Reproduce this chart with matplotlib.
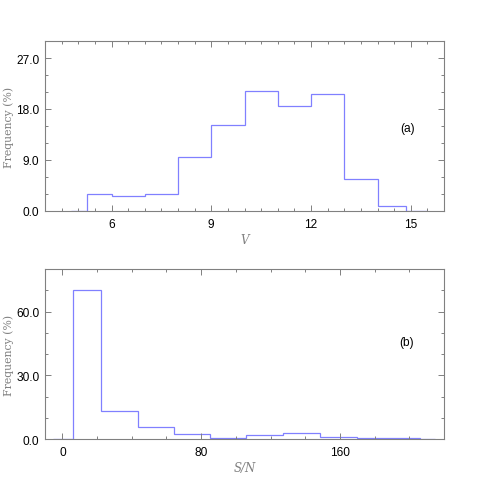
import numpy as np
import matplotlib
matplotlib.use('Agg')
import matplotlib.pyplot as plt
from matplotlib.ticker import MultipleLocator, FormatStrFormatter

# (a) V magnitude distribution, step histogram
v_edges = [4.77, 5.25, 6, 7, 8, 9, 10, 11, 12, 13, 14, 14.85, 15.5]
v_freq = [0, 3.05, 2.64, 3.05, 9.5, 15.1, 21.1, 18.5, 20.7, 5.6, 0.95, 0]

# (b) S/N distribution
sn_edges = [-5.3, 6.3, 22.1, 43.4, 64.2, 85.2, 106.0, 127.2, 148.5, 169.7, 205.9, 215.0]
sn_freq = [0, 70.1, 13.2, 6.0, 2.5, 0.8, 1.9, 2.8, 1.3, 0.4, 0]

line_color = '#8080ff'
frame_color = '#808080'
label_font = 'DejaVu Serif'
tick_font = 'Liberation Sans'


def style_axes(ax, xmaj, xmin, ymaj, ymin):
    for sp in ax.spines.values():
        sp.set_color(frame_color)
        sp.set_linewidth(0.8)
    ax.xaxis.set_major_locator(MultipleLocator(xmaj))
    ax.xaxis.set_minor_locator(MultipleLocator(xmin))
    ax.yaxis.set_major_locator(MultipleLocator(ymaj))
    ax.yaxis.set_minor_locator(MultipleLocator(ymin))
    ax.yaxis.set_major_formatter(FormatStrFormatter('%.1f'))
    ax.tick_params(which='both', direction='in', top=True, right=True,
                   color=frame_color, width=0.7, labelsize=8.6, labelcolor='black')
    ax.tick_params(which='major', length=4.5, pad=4)
    ax.tick_params(which='minor', length=2.5)
    ax.tick_params(axis='x', which='major', pad=5)
    for lab in ax.get_xticklabels() + ax.get_yticklabels():
        lab.set_fontfamily(tick_font)
    ax.set_ylabel('Frequency (%)', fontfamily=label_font, fontsize=7.8,
                  color=frame_color, labelpad=2)


fig = plt.figure(figsize=(4.85, 4.85), dpi=100)

ax1 = fig.add_axes([0.0928, 0.5629, 0.8227, 0.3505])
ax1.stairs(v_freq, v_edges, baseline=None, color=line_color, linewidth=0.9)
ax1.set_xlim(4, 16)
ax1.set_ylim(0, 30)
style_axes(ax1, 3, 0.5, 9, 3)
ax1.set_xlabel('V', fontfamily=label_font, fontstyle='italic', fontsize=8.5,
               color=frame_color, labelpad=2)
ax1.text(0.909, 0.49, '(a)', transform=ax1.transAxes, ha='center', va='center',
         fontsize=8.6, fontfamily=tick_font)

ax2 = fig.add_axes([0.0928, 0.0922, 0.8227, 0.3511])
ax2.stairs(sn_freq, sn_edges, baseline=None, color=line_color, linewidth=0.9)
ax2.set_xlim(-10, 220)
ax2.set_ylim(0, 80)
style_axes(ax2, 80, 20, 30, 10)
ax2.set_xlabel('S/N', fontfamily=label_font, fontstyle='italic', fontsize=8.5,
               color=frame_color, labelpad=2)
ax2.text(0.906, 0.57, '(b)', transform=ax2.transAxes, ha='center', va='center',
         fontsize=8.6, fontfamily=tick_font)

fig.savefig('out.png', dpi=100)
